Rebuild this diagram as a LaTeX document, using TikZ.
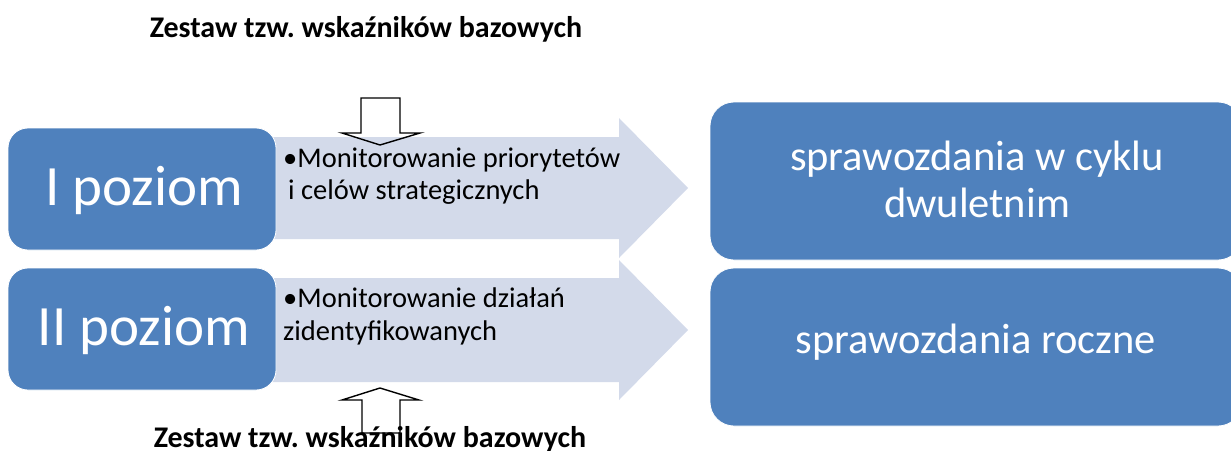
\documentclass[tikz,border=0pt]{standalone}
\usepackage{fontspec}
\setmainfont{Carlito}
\frenchspacing
\definecolor{boxblue}{HTML}{4F81BD}
\definecolor{arrowfill}{HTML}{D3DAEA}
\begin{document}
\begin{tikzpicture}[x=1pt,y=-1pt,
  levelbox/.style={fill=boxblue, draw=white, line width=0.8pt, rounded corners=20pt,
    minimum width=268pt, minimum height=122pt, inner sep=0pt},
  reportbox/.style={fill=boxblue, draw=white, line width=0.8pt, rounded corners=24pt,
    minimum width=532pt, minimum height=158pt, inner sep=0pt},
  leveltext/.style={text=white, font=\fontsize{57}{60}\selectfont, inner sep=0pt, anchor=base},
  reporttext/.style={text=white, font=\fontsize{42.5}{47}\selectfont, inner sep=0pt, anchor=base},
  itemtext/.style={text=black, font=\fontsize{28.5}{32}\selectfont, inner sep=0pt, anchor=base west},
  titletext/.style={text=black, font=\bfseries\fontsize{30}{34}\selectfont, inner sep=0pt, anchor=base},
  bigarrow/.style={fill=arrowfill, draw=none},
  hollowarrow/.style={draw=black, line width=1.4pt, line join=miter, fill=none}
]
\useasboundingbox (0,0) rectangle (1231,450);
\clip (0,0) rectangle (1231,450);

% light block arrows
\path[bigarrow] (260,137) -- (619,137) -- (619,118) -- (688,188) -- (619,258) -- (619,239) -- (260,239) -- cycle;
\path[bigarrow] (260,278) -- (619,278) -- (619,260) -- (688,330) -- (619,400) -- (619,382) -- (260,382) -- cycle;

% level boxes
\node[levelbox] (lvlA) at (142,189) {};
\node[levelbox] (lvlB) at (142,329) {};
\node[leveltext] (lvlAt) at (144,205) {I poziom};
\node[leveltext] (lvlBt) at (144,345) {II poziom};

% report boxes
\node[reportbox] (repA) at (976,181) {};
\node[reportbox] (repB) at (976,347) {};
\node[reporttext] (repAt1) at (977,170) {sprawozdania w cyklu};
\node[reporttext] (repAt2) at (977,217) {dwuletnim};
\node[reporttext] (repBt) at (976,353) {sprawozdania roczne};

% item texts
\node[itemtext] (itA1) at (283,167) {•Monitorowanie priorytetów};
\node[itemtext] (itA2) at (288,199) {i celów strategicznych};
\node[itemtext] (itB1) at (283,307) {•Monitorowanie działań};
\node[itemtext] (itB2) at (283,340) {zidentyfikowanych};

% hollow arrows
\draw[hollowarrow] (361,98) -- (400,98) -- (400,133) -- (420,133) -- (380,145) -- (342,133) -- (361,133) -- cycle;
\draw[hollowarrow] (362,433) -- (362,400) -- (342,400) -- (380,388) -- (419,400) -- (400,400) -- (400,433) -- cycle;

% titles
\node[titletext] (topTitle) at (366,37) {Zestaw tzw. wskaźników bazowych};
\node[titletext] (bottomTitle) at (370,447) {Zestaw tzw. wskaźników bazowych};
\end{tikzpicture}
\end{document}
